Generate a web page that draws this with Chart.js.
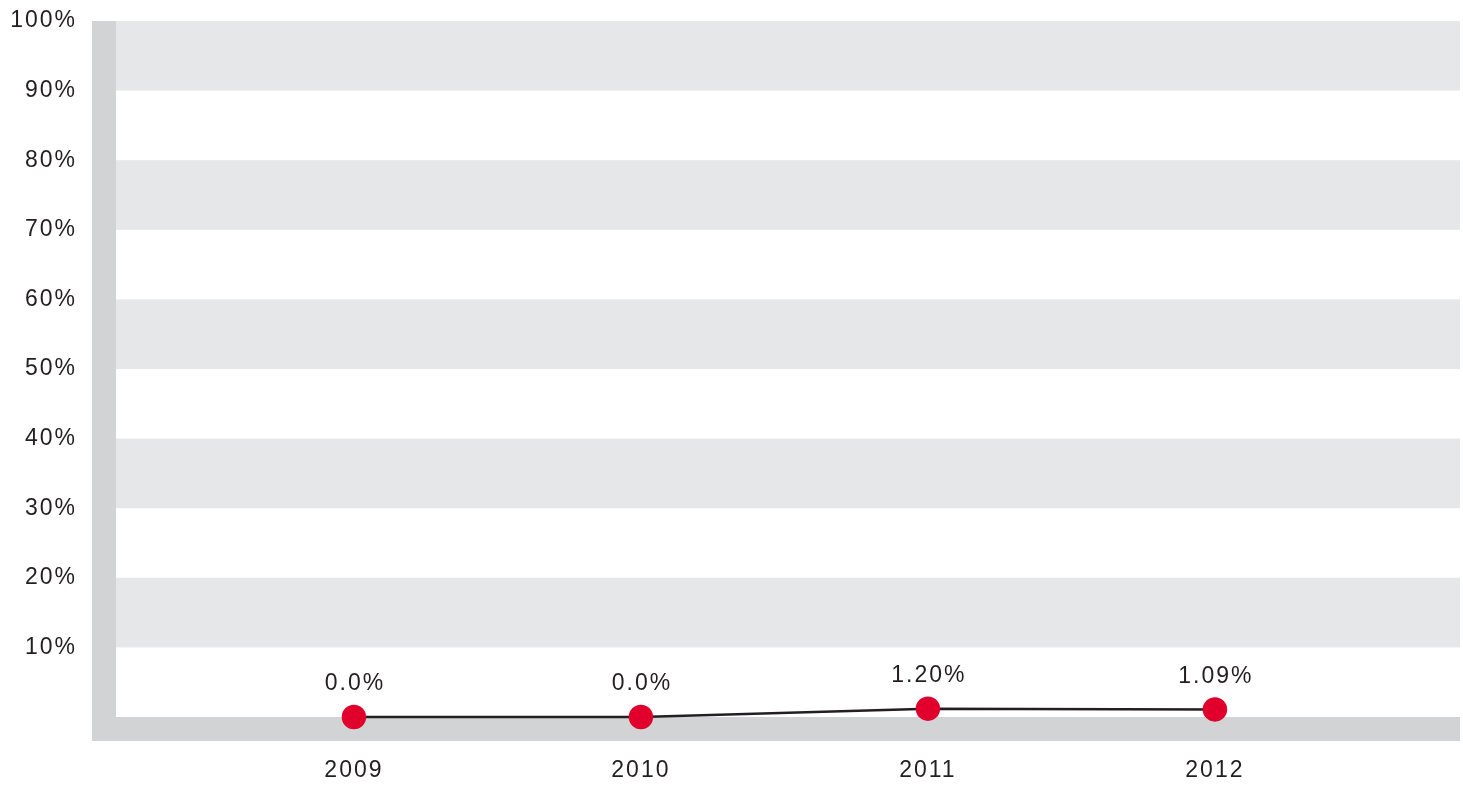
<!DOCTYPE html>
<html>
<head>
<meta charset="utf-8">
<script src="https://cdn.jsdelivr.net/npm/chart.js@4"></script>
<style>
  html, body { margin: 0; padding: 0; background: #fff; overflow: hidden; }
  #wrap { width: 1463px; height: 785px; }
  canvas { display: block; }
</style>
</head>
<body>
<div id="wrap"><canvas id="myChart"></canvas></div>
<script>
// data
let years = ['2009', '2010', '2011', '2012'];
let rates = [0, 0, 1.20, 1.09];
let rateLabels = ['0.0%', '0.0%', '1.20%', '1.09%'];
let yTicks = [10, 20, 30, 40, 50, 60, 70, 80, 90, 100];

let textColor = '#231f20';
let bandGray = '#e6e7e8';
let frameGray = '#d1d3d4';
let dotRed = '#e1002c';

Chart.defaults.font.family = '"Liberation Sans", Arial, sans-serif';
Chart.defaults.font.size = 23;
Chart.defaults.color = textColor;

// stripes + frame behind the line
const backdrop = {
  id: 'backdrop',
  beforeDraw(chart) {
    chart.ctx.letterSpacing = '2px';
  },
  beforeDatasetsDraw(chart) {
    const ctx = chart.ctx;
    const area = chart.chartArea;
    const y = chart.scales.y;
    ctx.save();
    ctx.fillStyle = bandGray;
    for (let v = 10; v < 100; v += 20) {
      let top = y.getPixelForValue(v + 10);
      let bottom = y.getPixelForValue(v);
      ctx.fillRect(area.left, top, area.right - area.left, bottom - top);
    }
    ctx.fillStyle = frameGray;
    ctx.fillRect(area.left - 24, area.top, 24, area.bottom - area.top + 24);
    ctx.fillRect(area.left - 24, area.bottom, area.right - area.left + 24, 24);
    ctx.restore();
  },
  afterDatasetsDraw(chart) {
    const ctx = chart.ctx;
    const meta = chart.getDatasetMeta(0);
    ctx.save();
    ctx.letterSpacing = '2px';
    ctx.font = '23px "Liberation Sans", Arial, sans-serif';
    ctx.fillStyle = textColor;
    ctx.textAlign = 'center';
    ctx.textBaseline = 'middle';
    meta.data.forEach((pt, i) => {
      ctx.fillText(rateLabels[i], pt.x + 1, pt.y - 33);
    });
    ctx.restore();
  }
};

const data = {
  datasets: [{
    data: years.map((yr, i) => ({ x: Number(yr), y: rates[i] })),
    borderColor: textColor,
    borderWidth: 2.5,
    pointBackgroundColor: dotRed,
    pointBorderColor: dotRed,
    pointRadius: 11,
    pointHoverRadius: 11,
    tension: 0,
    clip: false
  }]
};

const config = {
  type: 'line',
  data: data,
  options: {
    responsive: true,
    maintainAspectRatio: false,
    animation: false,
    layout: {
      autoPadding: false,
      padding: { top: 21, right: 3, left: 0, bottom: 0 }
    },
    plugins: {
      legend: { display: false },
      tooltip: { enabled: false }
    },
    scales: {
      x: {
        type: 'linear',
        min: 2008.171,
        max: 2012.854,
        grid: { display: false, drawTicks: false },
        border: { display: false },
        afterBuildTicks: (scale) => {
          scale.ticks = years.map(yr => ({ value: Number(yr) }));
        },
        afterFit: (scale) => {
          scale.height = 68;
          scale.paddingLeft = 0;
          scale.paddingRight = 0;
        },
        ticks: {
          padding: 40,
          maxRotation: 0,
          callback: (v) => String(v)
        }
      },
      y: {
        min: 0,
        max: 100,
        grid: { display: false, drawTicks: false },
        border: { display: false },
        afterBuildTicks: (scale) => {
          scale.ticks = yTicks.map(v => ({ value: v }));
        },
        afterFit: (scale) => {
          scale.width = 116;
          scale.paddingTop = 0;
          scale.paddingBottom = 0;
        },
        ticks: {
          padding: 39,
          callback: (v) => v + '%'
        }
      }
    }
  },
  plugins: [backdrop]
};

const myChart = new Chart(document.getElementById('myChart'), config);
</script>
</body>
</html>
